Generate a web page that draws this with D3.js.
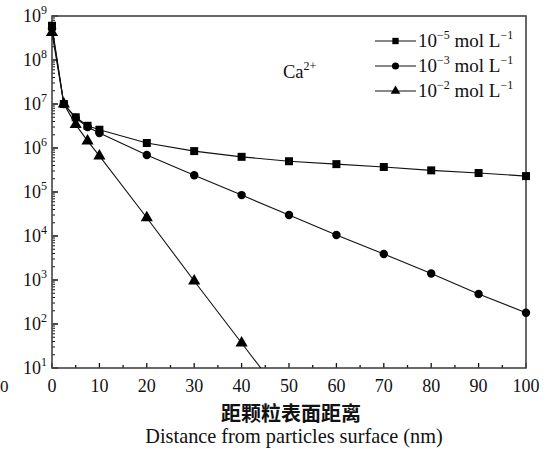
<!DOCTYPE html>
<html>
<head>
<meta charset="utf-8">
<script src="https://cdn.jsdelivr.net/npm/d3@7"></script>
<style>
  html, body { margin: 0; padding: 0; background: #fff; }
  svg { display: block; }
  text { font-family: "Liberation Serif", "DejaVu Serif", serif; fill: #111; }
</style>
</head>
<body>
<div id="chart"></div>
<script>
// distance from particle surface (nm)
const distances = [0, 2.5, 5, 7.5, 10, 20, 30, 40, 50, 60, 70, 80, 90, 100];
// Ca2+ concentration profiles for each bulk concentration
const conc1e5 = [6.0e8, 1.0e7, 5.0e6, 3.2e6, 2.6e6, 1.3e6, 8.5e5, 6.3e5, 5.0e5, 4.3e5, 3.7e5, 3.1e5, 2.7e5, 2.3e5];
const conc1e3 = [5.2e8, 1.0e7, 4.8e6, 3.0e6, 2.2e6, 6.9e5, 2.4e5, 8.5e4, 3.0e4, 1.05e4, 3.9e3, 1.4e3, 4.8e2, 1.8e2];
const conc1e2 = [4.2e8, 1.0e7, 3.4e6, 1.45e6, 6.6e5, 2.6e4, 9.5e2, 37, 1.45];
const legendExps = ['5', '3', '2'];
const xTicks = [0, 10, 20, 30, 40, 50, 60, 70, 80, 90, 100];
const yExponents = [1, 2, 3, 4, 5, 6, 7, 8, 9];

const W = 554, H = 449;
const margin = { left: 52, top: 16, right: 28, bottom: 81 };

const svg = d3.select('#chart').append('svg')
  .attr('width', W).attr('height', H);

const x = d3.scaleLinear().domain([0, 100]).range([margin.left, W - margin.right]);
const y = d3.scaleLog().domain([10, 1e9]).range([H - margin.bottom, margin.top]);

const x0 = x.range()[0], x1 = x.range()[1];
const yb = y.range()[0], yt = y.range()[1];

// clip so the steep series stops at the bottom axis
svg.append('defs').append('clipPath').attr('id', 'clip')
  .append('rect')
  .attr('x', x0 - 12).attr('y', yt - 12)
  .attr('width', x1 - x0 + 24).attr('height', yb - yt + 12);

// x ticks (inside, pointing up)
const xAxis = svg.append('g');
const xMinor = d3.range(5, 100, 10);
xAxis.selectAll('line.maj').data(xTicks).join('line')
  .attr('x1', d => x(d)).attr('x2', d => x(d))
  .attr('y1', yb).attr('y2', yb - 5)
  .attr('stroke', '#111').attr('stroke-width', 1.3);
xAxis.selectAll('line.min').data(xMinor).join('line')
  .attr('x1', d => x(d)).attr('x2', d => x(d))
  .attr('y1', yb).attr('y2', yb - 3)
  .attr('stroke', '#111').attr('stroke-width', 1.3);
xAxis.selectAll('text').data(xTicks).join('text')
  .attr('x', d => x(d)).attr('y', yb + 24)
  .attr('text-anchor', 'middle')
  .attr('font-size', 18)
  .text(d => d);

// y ticks (log, inside)
const yAxis = svg.append('g');
const yMinor = [];
for (let e = 1; e < 9; e++) for (let m = 2; m <= 9; m++) yMinor.push(m * Math.pow(10, e));
yAxis.selectAll('line.min').data(yMinor).join('line')
  .attr('x1', x0).attr('x2', x0 + 3)
  .attr('y1', d => y(d)).attr('y2', d => y(d))
  .attr('stroke', '#111').attr('stroke-width', 1);
yAxis.selectAll('line.maj').data(yExponents).join('line')
  .attr('x1', x0).attr('x2', x0 + 6)
  .attr('y1', d => y(Math.pow(10, d))).attr('y2', d => y(Math.pow(10, d)))
  .attr('stroke', '#111').attr('stroke-width', 1.5);
const yl = yAxis.selectAll('text').data(yExponents).join('text')
  .attr('x', x0 - 5).attr('y', d => y(Math.pow(10, d)) + 6)
  .attr('text-anchor', 'end')
  .attr('font-size', 18);
yl.append('tspan').text('10');
yl.append('tspan').attr('dy', -8).attr('font-size', 12).text(d => d);

// frame
svg.append('rect')
  .attr('x', x0).attr('y', yt)
  .attr('width', x1 - x0).attr('height', yb - yt)
  .attr('fill', 'none').attr('stroke', '#444').attr('stroke-width', 1.6);

// series
const line = d3.line().x(d => x(d[0])).y(d => y(d[1]));
const plot = svg.append('g').attr('clip-path', 'url(#clip)');

const symbolTypes = [d3.symbolSquare, d3.symbolCircle, d3.symbolTriangle];
const symbolSizes = [64, 56, 64];
const series = [conc1e5, conc1e3, conc1e2];

series.forEach((vals, k) => {
  const pts = vals.map((v, i) => [distances[i], v]);
  plot.append('path').datum(pts)
    .attr('d', line)
    .attr('fill', 'none').attr('stroke', '#111').attr('stroke-width', 1.1);
  plot.selectAll(null).data(pts).join('path')
    .attr('transform', d => `translate(${x(d[0])},${y(d[1])})`)
    .attr('d', d3.symbol().type(symbolTypes[k]).size(symbolSizes[k]))
    .attr('fill', '#000');
});

// legend
const leg = svg.append('g');
legendExps.forEach((ex, i) => {
  const cy = 41 + i * 25;
  leg.append('line')
    .attr('x1', 375).attr('x2', 416).attr('y1', cy).attr('y2', cy)
    .attr('stroke', '#111').attr('stroke-width', 1.2);
  leg.append('path')
    .attr('transform', `translate(395.5,${cy})`)
    .attr('d', d3.symbol().type(symbolTypes[i]).size(40)())
    .attr('fill', '#000');
  const t = leg.append('text').attr('x', 418).attr('y', cy + 6).attr('font-size', 19);
  t.append('tspan').text('10');
  t.append('tspan').attr('dy', -8).attr('font-size', 12).text('\u2212' + ex);
  t.append('tspan').attr('dy', 8).text(' mol L');
  t.append('tspan').attr('dy', -8).attr('font-size', 12).text('\u22121');
});

// ion label
const ion = svg.append('text').attr('x', 283).attr('y', 78).attr('font-size', 18.5);
ion.append('tspan').text('Ca');
ion.append('tspan').attr('dy', -8).attr('font-size', 12).text('2+');

// axis titles
svg.append('text')
  .attr('x', (x0 + x1) / 2 + 2).attr('y', 421)
  .attr('text-anchor', 'middle')
  .attr('font-size', 20).attr('font-weight', 'bold')
  .style('font-family', '"Noto Sans CJK SC", sans-serif')
  .text('距颗粒表面距离');
svg.append('text')
  .attr('x', (x0 + x1) / 2 + 5).attr('y', 443)
  .attr('text-anchor', 'middle')
  .attr('font-size', 20.3)
  .text('Distance from particles surface (nm)');

// stray label from the neighbouring panel at the left edge
svg.append('text').attr('x', 0).attr('y', 392)
  .attr('font-size', 17).text('0');
</script>
</body>
</html>
